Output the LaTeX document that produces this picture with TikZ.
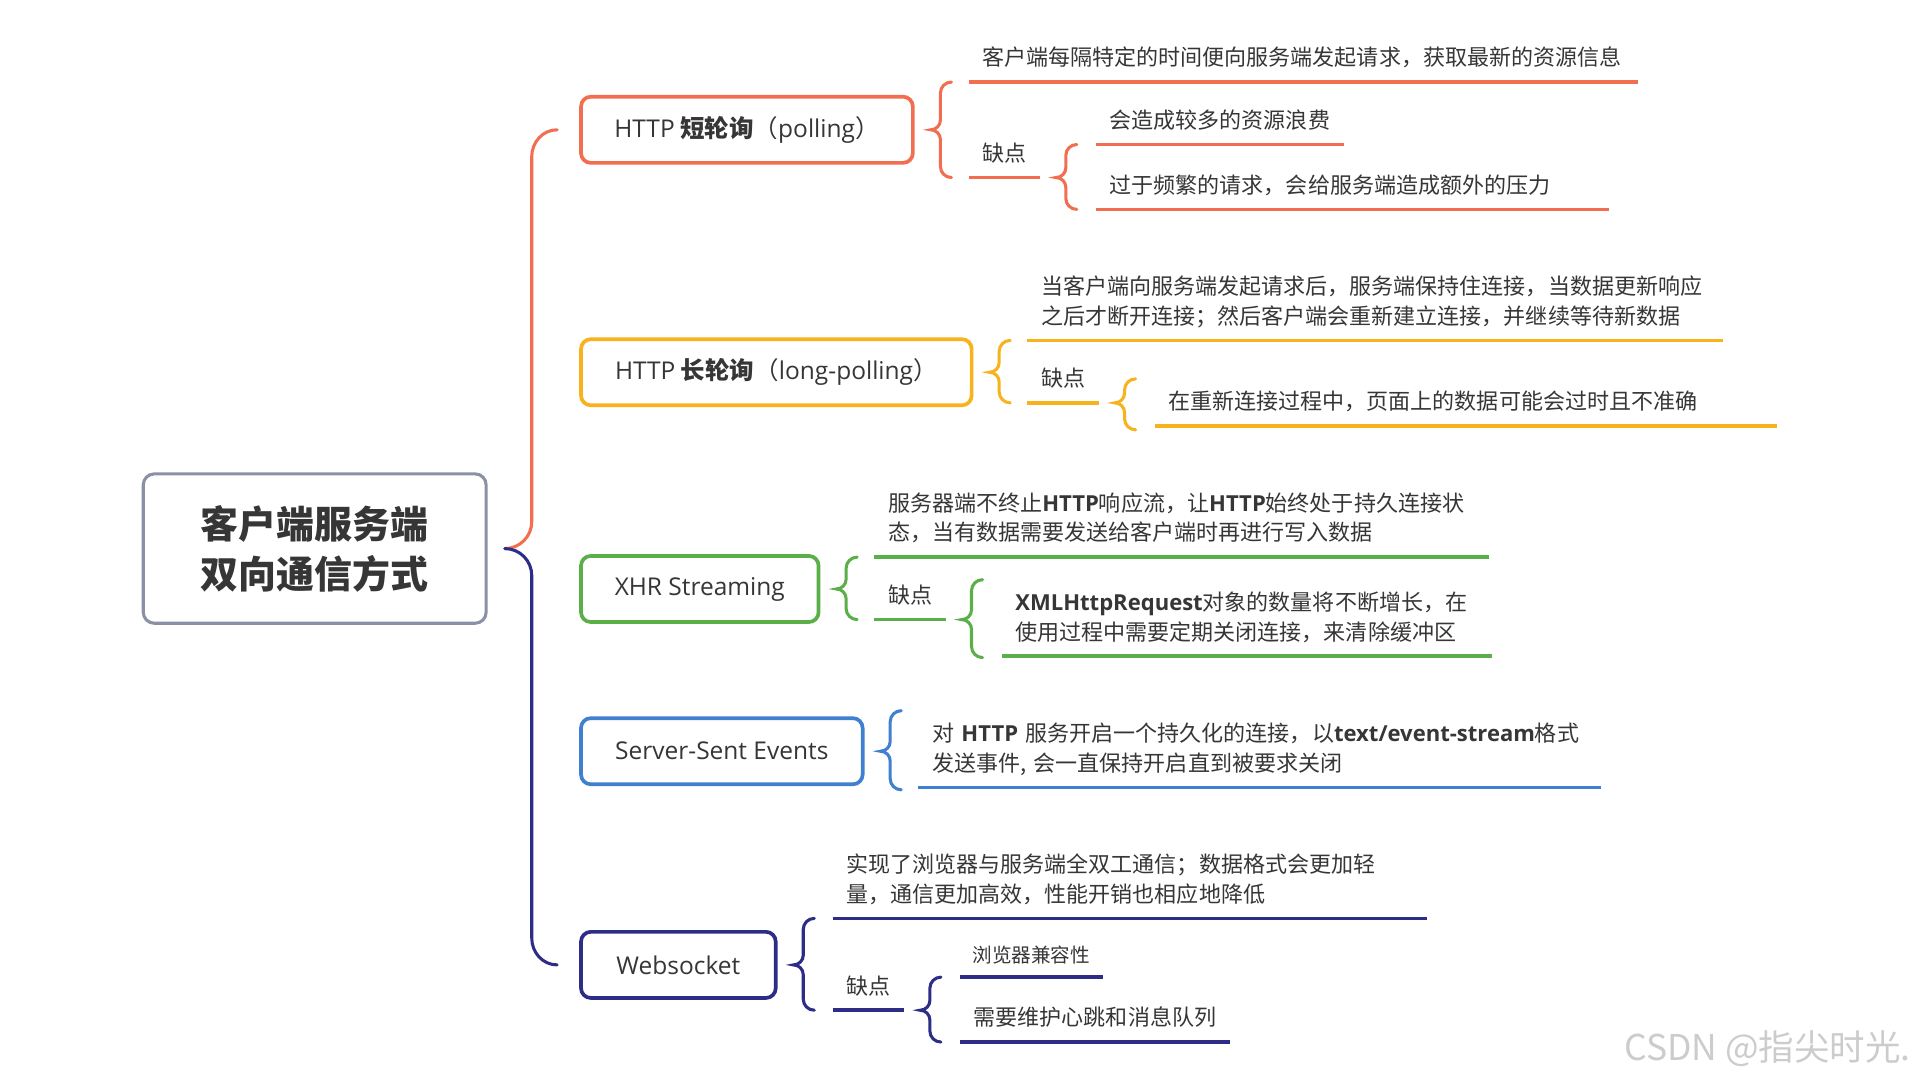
\documentclass[tikz,border=0pt]{standalone}
\usepackage{fontspec}
\setmainfont{Noto Sans CJK SC}
\newfontfamily\latin{Open Sans}
\usetikzlibrary{calc}

\definecolor{cpoll}{HTML}{F26E50}
\definecolor{clong}{HTML}{F8B21C}
\definecolor{cxhr}{HTML}{5BAF48}
\definecolor{csse}{HTML}{3F80D0}
\definecolor{cws}{HTML}{2D2C86}
\definecolor{croot}{HTML}{8B91A5}
\definecolor{txt}{HTML}{363636}

\newcommand{\enb}[1]{{\latin\bfseries #1}}
% brace: tip point, top end, bottom end, colour
\newcommand{\mbrace}[4]{%
  \draw[brace, #4] let \p1=#1, \p2=#2, \p3=#3 in
    (\x1+30pt,\y2) to[out=180,in=90] (\x1+21pt,\y2-9pt)
    -- (\x1+21pt,\y1+8pt) to[out=-90,in=0] (\x1+13pt,\y1)
    to[out=0,in=90] (\x1+21pt,\y1-8pt)
    -- (\x1+21pt,\y3+9pt) to[out=-90,in=180] (\x1+30pt,\y3);}

\begin{document}
\begin{tikzpicture}[x=1pt,y=-1pt,
    rootbox/.style={draw=croot, line width=2.5pt, rounded corners=9pt, minimum width=280pt,
      minimum height=122pt, align=center, text=txt, font=\fontsize{31}{41}\selectfont\bfseries},
    topic/.style={line width=3pt, rounded corners=8pt, anchor=west, minimum height=54pt,
      inner xsep=0pt, text=txt, font=\fontsize{20}{24}\selectfont},
    leaf/.style={anchor=south west, inner xsep=11pt, inner ysep=0pt, text depth=13pt,
      align=left, text=txt, font=\fontsize{18}{24}\selectfont},
    uw/.style={text width=#1},
    two/.style={text depth=37pt},
    uline/.style={line width=3pt},
    brace/.style={line width=2.5pt, line cap=round},
  ]
  \fill[white] (0,0) rectangle (1568,882);
  \useasboundingbox (0,0) rectangle (1568,882);

  %% root
  \node[rootbox] (root) at (257,448) {客户端服务端\\双向通信方式};

  %% topics
  \node[topic, draw=cpoll, minimum width=271pt] (poll) at (473,106) {{\latin HTTP} \textbf{短轮询}（{\latin polling}）};
  \node[topic, draw=clong, minimum width=319pt] (long) at (473,304) {{\latin HTTP} \textbf{长轮询}（{\latin long-polling}）};
  \node[topic, draw=cxhr, minimum width=194pt] (xhr) at (473,481) {\latin XHR Streaming};
  \node[topic, draw=csse, minimum width=230pt] (sse) at (473,613.5) {\latin Server-Sent Events};
  \node[topic, draw=cws, minimum width=159pt] (ws) at (473,788) {\latin Websocket};

  %% main brace
  \draw[brace, cpoll] let \p1=(root.east), \p2=(poll.west) in
    (\x2-18pt,\y2) to[out=180,in=90] (\x1+36pt,\y2-22pt)
    -- (\x1+36pt,\y1+22pt) to[out=-90,in=0] (\x1+14pt,\y1);
  \draw[brace, cws] let \p1=(root.east), \p2=(ws.west) in
    (\x1+14pt,\y1) to[out=0,in=90] (\x1+36pt,\y1-22pt)
    -- (\x1+36pt,\y2+22pt) to[out=-90,in=180] (\x2-18pt,\y2);

  %% polling
  \node[leaf, uw=524pt] (p1) at (791,67) {客户端每隔特定的时间便向服务端发起请求，获取最新的资源信息};
  \node[leaf] (pcon) at (791,145) {缺点};
  \node[leaf] (pc1) at (895,118) {会造成较多的资源浪费};
  \node[leaf, uw=397pt] (pc2) at (895,171) {过于频繁的请求，会给服务端造成额外的压力};
  \foreach \n in {p1,pcon,pc1,pc2}
    \draw[uline, cpoll] (\n.south west) -- (\n.south east);
  \mbrace{(poll.east)}{(p1.south west)}{(pcon.south west)}{cpoll}
  \mbrace{(pcon.south east)}{(pc1.south west)}{(pc2.south west)}{cpoll}

  %% long-polling
  \node[leaf, uw=546pt, two] (l1) at (839,278) {当客户端向服务端发起请求后，服务端保持住连接，当数据更新响应\\之后才断开连接；然后客户端会重新建立连接，并继续等待新数据};
  \node[leaf] (lcon) at (839,329) {缺点};
  \node[leaf, uw=486pt] (lc1) at (943,348) {在重新连接过程中，页面上的数据可能会过时且不准确};
  \foreach \n in {l1,lcon,lc1}
    \draw[uline, clong] (\n.south west) -- (\n.south east);
  \mbrace{(long.east)}{(l1.south west)}{(lcon.south west)}{clong}
  \mbrace{(lcon.south east)}{($(lc1.north west)+(0pt,10pt)$)}{($(lc1.south west)+(0pt,-3pt)$)}{clong}

  %% xhr streaming
  \node[leaf, uw=480pt, two] (x1) at (714,455) {服务器端不终止\enb{HTTP}响应流，让\enb{HTTP}始终处于持久连接状\\态，当有数据需要发送给客户端时再进行写入数据};
  \node[leaf] (xcon) at (714,506) {缺点};
  \node[leaf, uw=378pt, two] (xc1) at (818,536) {\enb{XMLHttpRequest}对象的数量将不断增长，在\\使用过程中需要定期关闭连接，来清除缓冲区};
  \foreach \n in {x1,xcon,xc1}
    \draw[uline, cxhr] (\n.south west) -- (\n.south east);
  \mbrace{(xhr.east)}{(x1.south west)}{(xcon.south west)}{cxhr}
  \mbrace{(xcon.south east)}{($(xc1.north west)+(0pt,10pt)$)}{($(xc1.south west)+(0pt,-1pt)$)}{cxhr}

  %% server-sent events
  \node[leaf, uw=535pt, two] (s1) at (750,643) {对 \enb{HTTP} 服务开启一个持久化的连接，以\enb{text/event-stream}格式\\发送事件, 会一直保持开启直到被要求关闭};
  \draw[uline, csse] (s1.south west) -- (s1.south east);
  \mbrace{(sse.east)}{($(s1.north west)+(0pt,10pt)$)}{($(s1.south west)+(0pt,-2pt)$)}{csse}

  %% websocket
  \node[leaf, uw=463pt, two] (w1) at (680,750) {实现了浏览器与服务端全双工通信；数据格式会更加轻\\量，通信更加高效，性能开销也相应地降低};
  \node[leaf] (wcon) at (680,825) {缺点};
  \node[leaf, text depth=12pt, inner xsep=10pt, font=\fontsize{16}{20}\selectfont] (wc1) at (784,798) {浏览器兼容性};
  \node[leaf] (wc2) at (784,851) {需要维护心跳和消息队列};
  \foreach \n in {w1,wcon,wc1,wc2}
    \draw[uline, cws] (\n.south west) -- (\n.south east);
  \mbrace{(ws.east)}{(w1.south west)}{(wcon.south west)}{cws}
  \mbrace{(wcon.south east)}{(wc1.south west)}{(wc2.south west)}{cws}

  %% mark
  \node[anchor=east, text=black!20, font=\fontsize{29}{32}\selectfont] (mark) at (1564,856) {CSDN @指尖时光.};
\end{tikzpicture}
\end{document}
